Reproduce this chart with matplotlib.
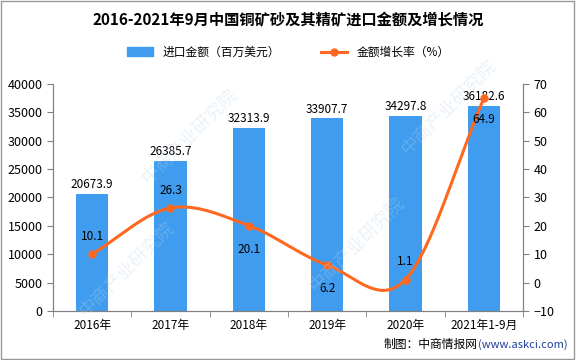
import numpy as np
import matplotlib.pyplot as plt
from matplotlib.lines import Line2D
from matplotlib.patches import Patch

plt.rcParams['font.family'] = ['Noto Sans CJK SC', 'DejaVu Sans']

years = ['2016年', '2017年', '2018年', '2019年', '2020年', '2021年1-9月']
amount = [20673.9, 26385.7, 32313.9, 33907.7, 34297.8, 36182.6]
growth = [10.1, 26.3, 20.1, 6.2, 1.1, 64.9]

bar_color = '#3F9CEF'
line_color = '#FF6820'
grey = '#808080'


def catmull_rom(x, y, n=40):
    # smooth curve through the points, like the original's spline line
    x = np.asarray(x, float)
    y = np.asarray(y, float)
    m = np.zeros_like(y)
    m[1:-1] = (y[2:] - y[:-2]) / 2
    m[0] = y[1] - y[0]
    m[-1] = y[-1] - y[-2]
    xs, ys = [], []
    for i in range(len(x) - 1):
        t = np.linspace(0, 1, n)
        h00 = 2 * t**3 - 3 * t**2 + 1
        h10 = t**3 - 2 * t**2 + t
        h01 = -2 * t**3 + 3 * t**2
        h11 = t**3 - t**2
        xs.append(x[i] + t * (x[i + 1] - x[i]))
        ys.append(h00 * y[i] + h10 * m[i] + h01 * y[i + 1] + h11 * m[i + 1])
    return np.concatenate(xs), np.concatenate(ys)


fig = plt.figure(figsize=(5.76, 3.6), dpi=100)
ax = fig.add_axes([0.092, 0.136, 0.816, 0.631])
ax2 = ax.twinx()

# faint watermark
for (wx, wy) in [(0.33, 0.62), (0.62, 0.32), (0.22, 0.25), (0.78, 0.7)]:
    fig.text(wx, wy, '中商产业研究院', rotation=45, fontsize=13, color='#B8D4EA',
             alpha=0.3, ha='center', va='center', zorder=0)

x = np.arange(len(years))
ax.bar(x, amount, width=0.41, color=bar_color, zorder=2)
for xi, v in zip(x, amount):
    ax.text(xi, v + 500, f'{v:.1f}', ha='center', va='bottom', fontsize=8.5)

ax.set_xlim(-0.5, len(years) - 0.5)
ax.set_ylim(0, 40000)
ax.set_yticks(np.arange(0, 40001, 5000))
ax.set_xticks(x)
ax.set_xticklabels(years, fontsize=8.5)
ax.set_xticks(np.arange(-0.5, len(years), 1), minor=True)
ax.tick_params(axis='x', which='major', length=0, pad=6)
ax.tick_params(axis='x', which='minor', length=4, color=grey, direction='out')
ax.tick_params(axis='y', labelsize=9, length=4, color=grey)

sx, sy = catmull_rom(x, growth)
ax2.plot(sx, sy, color=line_color, lw=2.2, zorder=3)
ax2.plot(x, growth, 'o', color=line_color, ms=5, zorder=4)
ax2.set_ylim(-10, 70)
ax2.set_yticks(np.arange(-10, 71, 10))
ax2.tick_params(axis='y', labelsize=9, length=4, color=grey)

offsets = [4, 4, -6, -6, 4, -5]
for xi, g, dy in zip(x, growth, offsets):
    ax2.text(xi, g + dy, f'{g}', ha='center',
             va='bottom' if dy > 0 else 'top', fontsize=8.5)

for a in (ax, ax2):
    a.spines['top'].set_visible(False)
    for s in ('left', 'right', 'bottom'):
        a.spines[s].set_color(grey)

fig.text(0.5, 0.945, '2016-2021年9月中国铜矿砂及其精矿进口金额及增长情况',
         ha='center', va='center', fontsize=11, fontweight='bold')

handles = [Patch(color=bar_color),
           Line2D([0], [0], color=line_color, lw=2.2, marker='o', ms=5)]
fig.legend(handles, ['进口金额（百万美元）', '金额增长率（%）'], loc='center',
           bbox_to_anchor=(0.5, 0.855), ncol=2, frameon=False, fontsize=8.5,
           handlelength=2.2, columnspacing=3.5)

url = fig.text(0.985, 0.042, '(www.askci.com)', ha='right', va='center',
               fontsize=8, color='#1F3F99')
ax.annotate('制图：中商情报网', xy=(0, 0.5), xycoords=url, ha='right', va='center',
            fontsize=8.5, annotation_clip=False)

fig.patches.append(plt.Rectangle((0.002, 0.003), 0.995, 0.994, transform=fig.transFigure,
                                 fill=False, edgecolor='#999999', lw=1))

plt.savefig('out.png', dpi=100)
